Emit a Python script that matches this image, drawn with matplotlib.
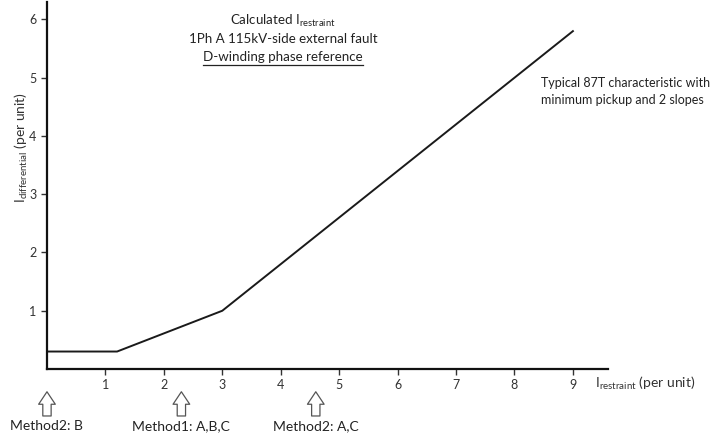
import matplotlib
matplotlib.use("Agg")
import matplotlib.pyplot as plt

plt.rcParams['font.family'] = ['Lato', 'DejaVu Sans']
plt.rcParams['mathtext.default'] = 'regular'

# 87T characteristic: minimum pickup then two slopes
i_restraint = [0, 1.2, 3, 9]
i_differential = [0.3, 0.3, 1.0, 5.8]

# calculated restraint currents per method
method_x = [0.0, 2.3, 4.6]
method_labels = ["Method2: B", "Method1: A,B,C", "Method2: A,C"]

x_ticks = [1, 2, 3, 4, 5, 6, 7, 8, 9]
y_ticks = [1, 2, 3, 4, 5, 6]

fig = plt.figure(figsize=(7.15, 4.37), dpi=100)
ax = fig.add_axes([0.0657, 0.1556, 0.7846, 0.8398])

ax.plot(i_restraint, i_differential, color='#1a1a1a', lw=1.4)

ax.set_xlim(0, 9.6)
ax.set_ylim(0, 6.3)
ax.set_xticks(x_ticks)
ax.set_yticks(y_ticks)
ax.tick_params(labelsize=9, colors='#333333', length=4, width=1)
ax.tick_params(axis='x', pad=3)
for side in ['top', 'right']:
    ax.spines[side].set_visible(False)
for side in ['left', 'bottom']:
    ax.spines[side].set_linewidth(1.6)
    ax.spines[side].set_color('#111111')

# axis labels
ax.text(9.37, -0.24, "I$_{restraint}$ (per unit)", fontsize=10, color='#333333',
        ha='left', va='center', clip_on=False)
ax.text(-0.44, 3.8, "I$_{differential}$ (per unit)", fontsize=10, color='#333333',
        rotation=90, ha='center', va='center', clip_on=False)

# annotations
fs = 9.6
cx = 4.04
ax.text(cx, 5.98, "Calculated I$_{restraint}$", fontsize=fs, ha='center',
        va='center', color='#222222')
ax.text(cx, 5.67, "1Ph A 115kV-side external fault", fontsize=fs, ha='center',
        va='center', color='#222222')
ax.text(cx, 5.36, "D-winding phase reference", fontsize=fs, ha='center',
        va='center', color='#222222')
ax.plot([2.67, 5.41], [5.22, 5.22], color='#222222', lw=0.9)
ax.text(8.46, 4.76, "Typical 87T characteristic with\nminimum pickup and 2 slopes",
        fontsize=9.0, ha='left', va='center', linespacing=1.5, color='#222222',
        clip_on=False)

# hollow arrows pointing at each method's restraint current
trans = ax.get_xaxis_transform()
for x, label in zip(method_x, method_labels):
    ax.annotate('', xy=(x, -0.062), xytext=(x, -0.128), xycoords=trans, textcoords=trans,
                arrowprops=dict(arrowstyle='simple,head_length=0.9,head_width=1.2,tail_width=0.6',
                                fc='white', ec='#555555', lw=0.9, shrinkA=0, shrinkB=0),
                annotation_clip=False)
    ax.text(x, -0.155, label, transform=trans, fontsize=10, ha='center', va='center',
            color='#222222', clip_on=False)

fig.savefig('out.png', dpi=100)
